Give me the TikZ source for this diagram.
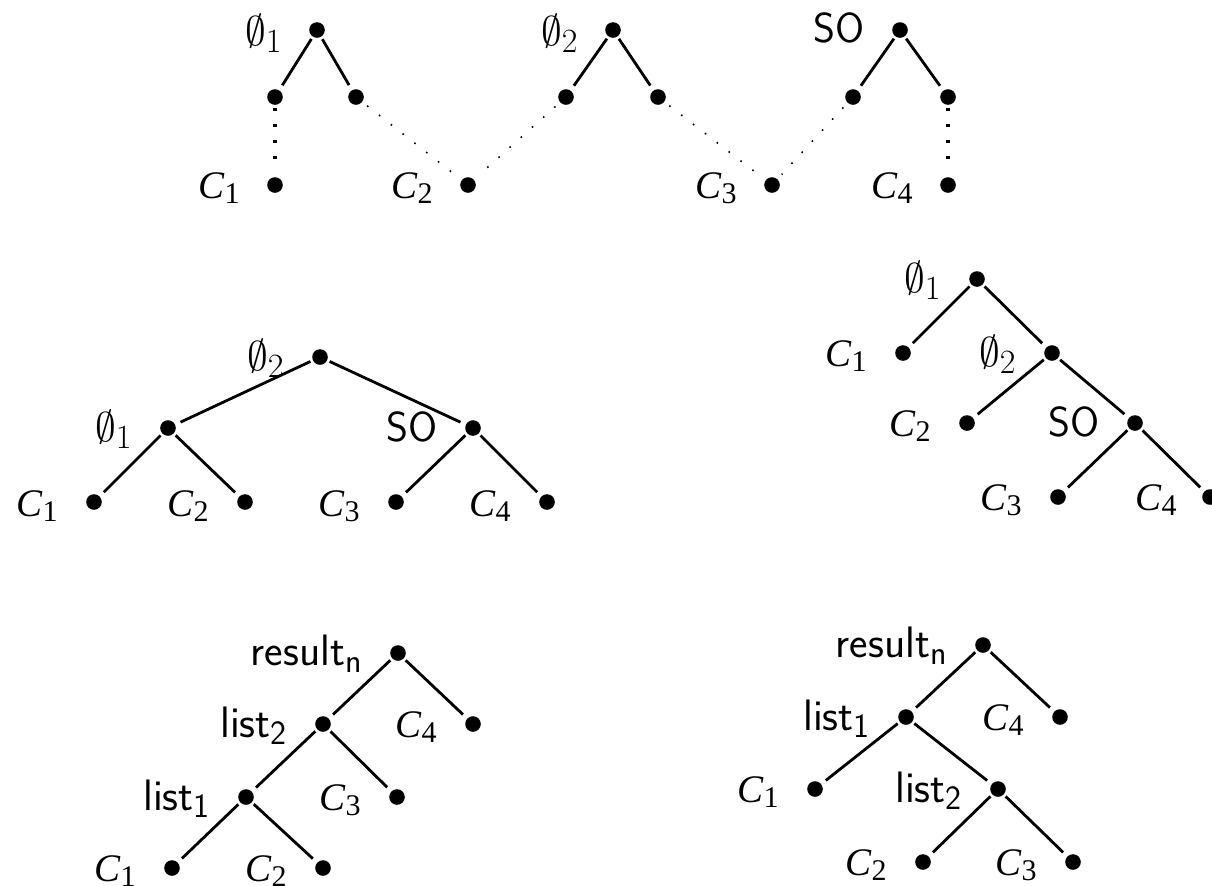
\documentclass[tikz,border=0pt]{standalone}
\usepackage{fontspec}
\newfontfamily\tms{Liberation Serif}
\newcommand\Cx[1]{{\fontsize{19.5}{19.5}\selectfont\tms\itshape C}\raisebox{-2.5pt}{\fontsize{15}{15}\selectfont\tms #1}}
\newcommand\Ex[1]{\scalebox{1.2}{$\emptyset$}\raisebox{-3.5pt}{\fontsize{17}{17}\selectfont #1}}
\newcommand\Sx[2]{{\fontsize{22}{22}\selectfont\sffamily #1}\raisebox{-3.5pt}{\fontsize{17}{17}\selectfont\sffamily #2}}
\newcommand\SOx{{\fontsize{21}{21}\selectfont\sffamily SO}}
\tikzset{
  dot/.style={circle,fill=black,inner sep=0pt,minimum size=7.8pt},
  lab/.style={inner sep=0pt,anchor=base east,font=\fontsize{19}{19}\selectfont},
  edge/.style={line width=1.4pt,shorten <=1.2pt,shorten >=2.8pt},
  thickdots/.style={line width=1.6pt,dash pattern=on 1.6pt off 6.4pt,shorten <=1.5pt,shorten >=2.5pt},
  thindots/.style={line width=0.8pt,dash pattern=on 0.8pt off 6.7pt,shorten <=3pt,shorten >=3pt}
}
\begin{document}
\begin{tikzpicture}[x=0.5pt,y=-0.5pt]
\useasboundingbox (0,0) rectangle (1212,885);
% ---------- top row ----------
\node[dot] (a1) at (317,30) {};
\node[dot] (a1l) at (275,97) {};
\node[dot] (a1r) at (356,97) {};
\node[dot] (c1) at (275,185) {};
\node[dot] (c2) at (468,185) {};
\node[dot] (a2) at (613,30) {};
\node[dot] (a2l) at (566,97) {};
\node[dot] (a2r) at (658,97) {};
\node[dot] (c3) at (772,185) {};
\node[dot] (a3) at (900,30) {};
\node[dot] (a3l) at (853,97) {};
\node[dot] (a3r) at (948,97) {};
\node[dot] (c4) at (948,185) {};
\node[lab] (la1) at (282,45) {\Ex{1}};
\node[lab] (la2) at (578,45) {\Ex{2}};
\node[lab] (la3) at (865,42) {\SOx};
\node[lab] (lc1) at (240,198) {\Cx{1}};
\node[lab] (lc2) at (433,198) {\Cx{2}};
\node[lab] (lc3) at (737,198) {\Cx{3}};
\node[lab] (lc4) at (913,198) {\Cx{4}};
\draw[edge] (a1) -- (a1l);
\draw[edge] (a1) -- (a1r);
\draw[edge] (a2) -- (a2l);
\draw[edge] (a2) -- (a2r);
\draw[edge] (a3) -- (a3l);
\draw[edge] (a3) -- (a3r);
\draw[thickdots] (a1l) -- (c1);
\draw[thickdots] (a3r) -- (c4);
\draw[thindots] (a1r) -- (c2);
\draw[thindots] (a2l) -- (c2);
\draw[thindots] (a2r) -- (c3);
\draw[thindots] (a3l) -- (c3);
% ---------- middle left ----------
\node[dot] (b) at (320,357) {};
\node[dot] (b1) at (168,428) {};
\node[dot] (b2) at (473,428) {};
\node[dot] (d1) at (94,502) {};
\node[dot] (d2) at (245,502) {};
\node[dot] (d3) at (396,502) {};
\node[dot] (d4) at (547,502) {};
\node[lab] (lb) at (284,370) {\Ex{2}};
\node[lab] (lb1) at (132,441) {\Ex{1}};
\node[lab] (lb2) at (438,441) {\SOx};
\node[lab] (ld1) at (58,516) {\Cx{1}};
\node[lab] (ld2) at (209,516) {\Cx{2}};
\node[lab] (ld3) at (360,516) {\Cx{3}};
\node[lab] (ld4) at (511,516) {\Cx{4}};
\draw[edge] (b) -- (b1);
\draw[edge] (b) -- (b2);
\draw[edge] (b1) -- (d1);
\draw[edge] (b1) -- (d2);
\draw[edge] (b2) -- (d3);
\draw[edge] (b2) -- (d4);
% ---------- middle right ----------
\node[dot] (e) at (977,279) {};
\node[dot] (f1) at (903,353) {};
\node[dot] (e2) at (1052,353) {};
\node[dot] (f2) at (967,423) {};
\node[dot] (e3) at (1135,423) {};
\node[dot] (f3) at (1058,497) {};
\node[dot] (f4) at (1210,497) {};
\node[lab] (le) at (941,292) {\Ex{1}};
\node[lab] (lf1) at (867,366) {\Cx{1}};
\node[lab] (le2) at (1016,366) {\Ex{2}};
\node[lab] (lf2) at (931,436) {\Cx{2}};
\node[lab] (le3) at (1100,436) {\SOx};
\node[lab] (lf3) at (1022,510) {\Cx{3}};
\node[lab] (lf4) at (1177,510) {\Cx{4}};
\draw[edge] (e) -- (f1);
\draw[edge] (e) -- (e2);
\draw[edge] (e2) -- (f2);
\draw[edge] (e2) -- (e3);
\draw[edge] (e3) -- (f3);
\draw[edge] (e3) -- (f4);
% ---------- bottom left ----------
\node[dot] (g) at (398,653) {};
\node[dot] (g1) at (323,724) {};
\node[dot] (h4) at (473,724) {};
\node[dot] (g2) at (246,797) {};
\node[dot] (h3) at (397,797) {};
\node[dot] (h1) at (172,868) {};
\node[dot] (h2) at (323,868) {};
\node[lab] (lg) at (362,665) {\Sx{result}{n}};
\node[lab] (lg1) at (287,737) {\Sx{list}{2}};
\node[lab] (lh4) at (437,737) {\Cx{4}};
\node[lab] (lg2) at (210,810) {\Sx{list}{1}};
\node[lab] (lh3) at (361,810) {\Cx{3}};
\node[lab] (lh1) at (136,881) {\Cx{1}};
\node[lab] (lh2) at (287,881) {\Cx{2}};
\draw[edge] (g) -- (g1);
\draw[edge] (g) -- (h4);
\draw[edge] (g1) -- (g2);
\draw[edge] (g1) -- (h3);
\draw[edge] (g2) -- (h1);
\draw[edge] (g2) -- (h2);
% ---------- bottom right ----------
\node[dot] (k) at (983,645) {};
\node[dot] (k1) at (906,717) {};
\node[dot] (m4) at (1060,717) {};
\node[dot] (m1) at (815,789) {};
\node[dot] (k2) at (998,789) {};
\node[dot] (m2) at (923,862) {};
\node[dot] (m3) at (1073,862) {};
\node[lab] (lk) at (947,657) {\Sx{result}{n}};
\node[lab] (lk1) at (870,730) {\Sx{list}{1}};
\node[lab] (lm4) at (1024,730) {\Cx{4}};
\node[lab] (lm1) at (779,802) {\Cx{1}};
\node[lab] (lk2) at (962,802) {\Sx{list}{2}};
\node[lab] (lm2) at (887,875) {\Cx{2}};
\node[lab] (lm3) at (1037,875) {\Cx{3}};
\draw[edge] (k) -- (k1);
\draw[edge] (k) -- (m4);
\draw[edge] (k1) -- (m1);
\draw[edge] (k1) -- (k2);
\draw[edge] (k2) -- (m2);
\draw[edge] (k2) -- (m3);
\end{tikzpicture}
\end{document}
